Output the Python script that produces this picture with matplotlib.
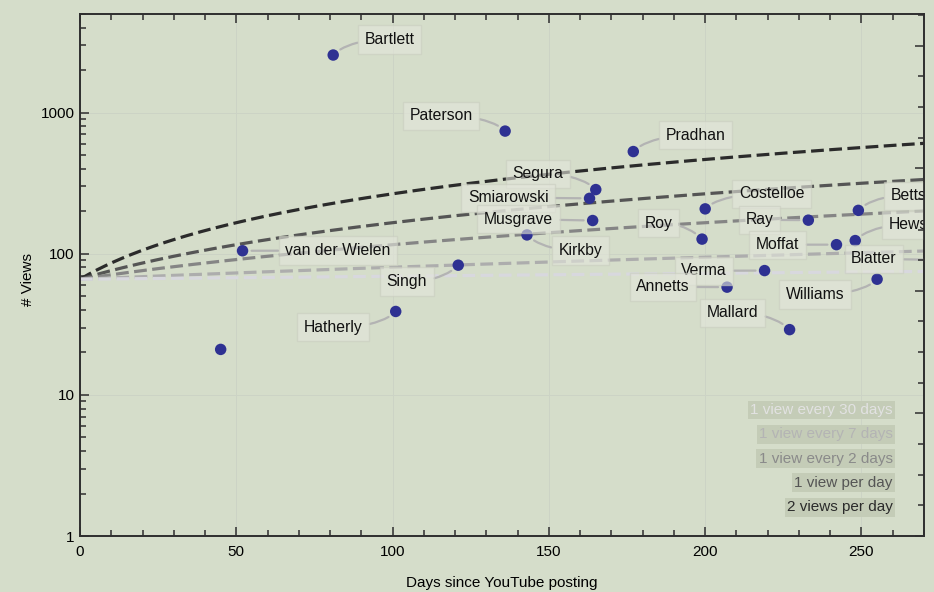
import numpy as np
import matplotlib
matplotlib.use("Agg")
import matplotlib.pyplot as plt
from matplotlib.ticker import MultipleLocator, LogLocator, NullFormatter, FixedLocator

plt.rcParams['font.family'] = ['Liberation Sans', 'DejaVu Sans']
plt.rcParams['font.size'] = 11

# videos: name, days since posting, views
names = ["Bartlett", "Paterson", "Pradhan", "Segura", "Smiarowski", "Musgrave",
         "Kirkby", "van der Wielen", "Singh", "Hatherly", "Costelloe", "Roy",
         "Ray", "Betts", "Hews", "Moffat", "Blatter", "Verma", "Annetts",
         "Williams", "Mallard"]
days = [81, 136, 177, 165, 163, 164, 143, 52, 121, 101, 200, 199,
        233, 249, 248, 242, 282, 219, 207, 255, 227]
views = [2560, 740, 530, 285, 247, 172, 136, 105, 83, 39, 208, 127,
         173, 203, 124, 116, 90, 76, 58, 66, 29]

# one video without a callout
other_days = [45]
other_views = [21]

# reference rates (views per day), drawn as dashed curves
rates = [2, 1, 1 / 2, 1 / 7, 1 / 30]
rate_labels = ["2 views per day", "1 view per day", "1 view every 2 days",
               "1 view every 7 days", "1 view every 30 days"]
start_views = 66
max_day = 270

# where the callout labels sit (data coords)
label_x = [99, 115.5, 197, 146.5, 137, 140.3, 160, 82.5, 104.6, 81, 221.3, 185.2,
           217.4, 265, 265, 223.2, 254, 199.6, 186.5, 235.2, 208.7]
label_y = [3300, 950, 690, 369, 250, 176, 105.5, 105.4, 63.6, 30.1, 266, 165,
           174, 258, 160, 116, 92, 75.8, 58.3, 51.5, 38.2]

bg = '#d5ddca'
frame = '#2e2e2e'
rate_colors = ['#2b2b2b', '#555555', '#858585', '#adadad', '#d8d8de']
legend_colors = ['#2b2b2b', '#555555', '#8a8a8a', '#b4b4b4', '#e2e2e2']
dot_color = '#2e3192'

fig = plt.figure(figsize=(9.34, 5.92), dpi=100, facecolor=bg)
ax = fig.add_axes([80 / 934, 56 / 592, 844 / 934, 522 / 592])
ax.set_facecolor(bg)
ax.set_yscale('log')
ax.set_xlim(0, max_day)
ax.set_ylim(1, 5000)

ax.xaxis.set_major_locator(MultipleLocator(50))
ax.xaxis.set_minor_locator(MultipleLocator(10))
ax.yaxis.set_major_locator(FixedLocator([1, 10, 100, 1000]))
ax.yaxis.set_minor_locator(LogLocator(base=10, subs=np.arange(2, 10)))
ax.yaxis.set_minor_formatter(NullFormatter())
ax.set_yticklabels(["1", "10", "100", "1000"])
ax.tick_params(which='both', direction='in', top=True, right=False, color=frame, width=1.1)
ax.tick_params(which='major', length=6.5)
ax.tick_params(which='minor', length=4)
ax.tick_params(axis='x', pad=6.5)
ax.tick_params(axis='y', pad=4)
ax.grid(which='major', color='#ccd3c5', lw=0.7)
for s in ax.spines.values():
    s.set_color(frame)
    s.set_linewidth(1.2)

# right frame ticks follow natural log of the views
rax = ax.twinx()
rax.set_ylim(0, np.log(5000))
rax.yaxis.set_major_locator(MultipleLocator(2))
rax.yaxis.set_minor_locator(MultipleLocator(0.5))
rax.tick_params(which='both', direction='in', labelright=False, color=frame, width=1.1)
rax.tick_params(which='major', length=6.5)
rax.tick_params(which='minor', length=4)
for s in rax.spines.values():
    s.set_color(frame)
    s.set_linewidth(1.2)

t = np.linspace(0, max_day, 300)
for r, c in zip(rates, rate_colors):
    ax.plot(t, start_views + r * t, color=c, lw=2.3, dashes=(4, 1.7), zorder=2)

ax.scatter(days + other_days, views + other_views, s=68, color=dot_color,
           edgecolors='none', zorder=3, clip_on=True)

for name, d, v, lx, ly in zip(names, days, views, label_x, label_y):
    p = ax.transData.transform((d, v))
    q = ax.transData.transform((lx, ly))
    dx, dy = q[0] - p[0], q[1] - p[1]
    if abs(dy) < 4:
        conn = "arc3,rad=0"
    else:
        conn = "angle3,angleA=0,angleB=%d" % (45 if dx * dy > 0 else -45)
    ann = ax.annotate(name, xy=(d, v), xytext=(lx, ly), ha='center', va='center',
                      fontsize=11.3, color='#111111', zorder=4, clip_on=True,
                      annotation_clip=False,
                      bbox=dict(boxstyle='square,pad=0.42', fc='#e4e6dc', ec='#c9cdbf',
                                lw=1.0, alpha=0.6),
                      arrowprops=dict(arrowstyle='-', color='#b3b3b3', lw=1.6,
                                      shrinkA=0, shrinkB=6.5, connectionstyle=conn))
    ann.arrow_patch.set_clip_path(ax.patch)

legend_y = [0.055, 0.102, 0.148, 0.195, 0.241]
for lab, c, yy in zip(rate_labels, legend_colors, legend_y):
    ax.text(0.963, yy, lab, transform=ax.transAxes, ha='right', va='center',
            color=c, fontsize=11, zorder=5,
            bbox=dict(boxstyle='square,pad=0.15', fc='#c4ccb7', ec='none'))

fig.text(502 / 934, 1 - 583 / 592, "Days since YouTube posting", ha='center', va='center', fontsize=11)
fig.text(28 / 934, 1 - 279 / 592, "# Views", rotation=90, ha='center', va='center', fontsize=11)

fig.savefig("out.png", dpi=100, facecolor=bg)
